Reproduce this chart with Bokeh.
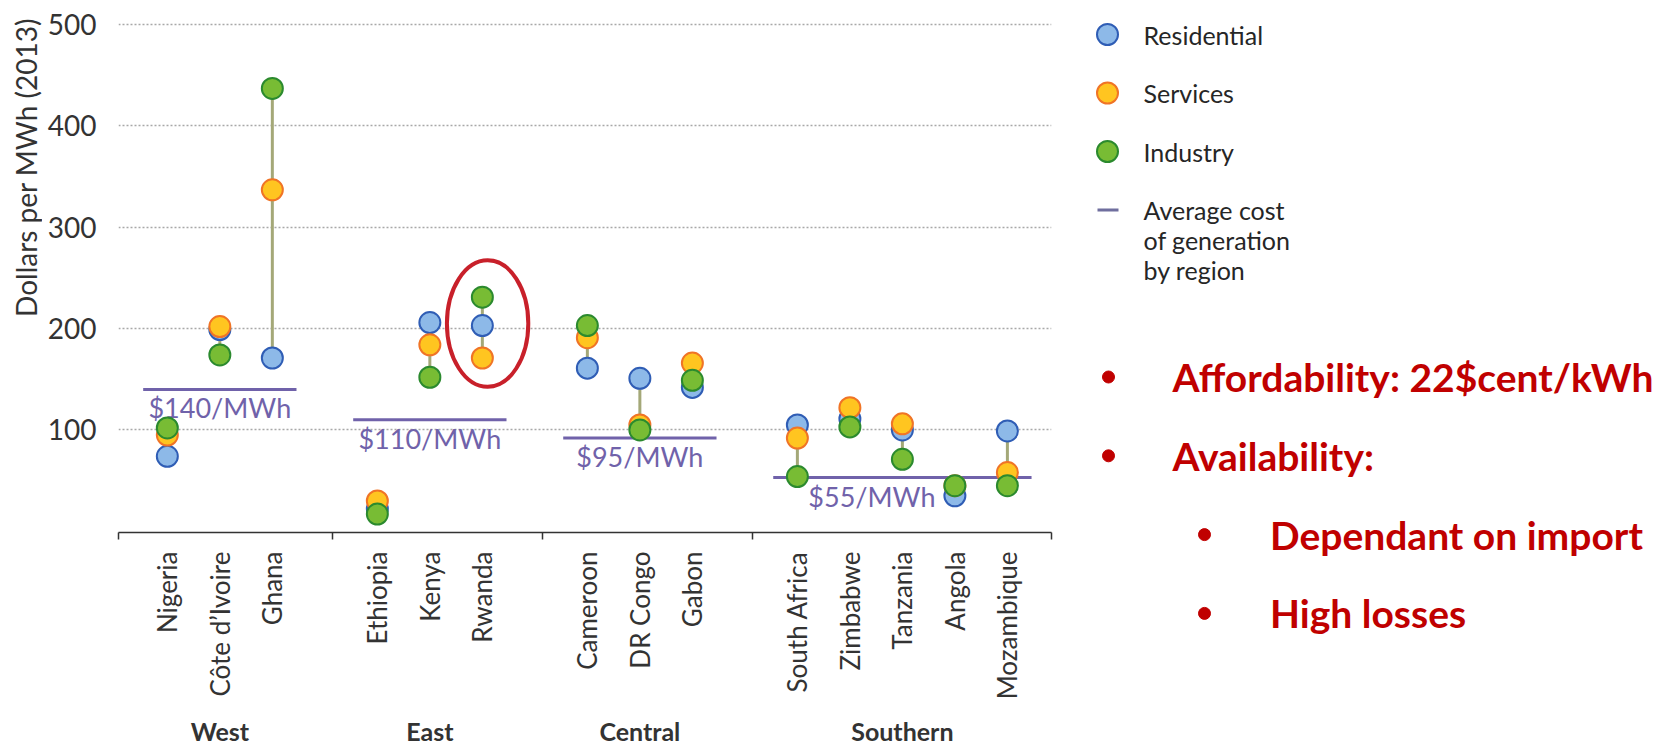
import math
from bokeh.plotting import figure
from bokeh.layouts import row
from bokeh.models import Range1d, FixedTicker, LinearAxis, ColumnDataSource
from bokeh.core.properties import value
from bokeh.embed import file_html
from bokeh.resources import INLINE

# ---------------- data ----------------
regions = ["West", "East", "Central", "Southern"]
countries_by_region = [
    ["Nigeria", "Côte d’Ivoire", "Ghana"],
    ["Ethiopia", "Kenya", "Rwanda"],
    ["Cameroon", "DR Congo", "Gabon"],
    ["South Africa", "Zimbabwe", "Tanzania", "Angola", "Mozambique"],
]
residential = [74, 199, 171, 22, 206, 203, 161, 151, 142, 105, 111, 100, 35, 99]
services = [95, 202, 337, 30, 184, 171, 191, 105, 166, 92, 122, 106, 45, 58]
industry = [102, 174, 437, 17, 152, 231, 203, 100, 149, 54, 103, 71, 45, 45]
avg_cost = [140, 110, 92, 53]
avg_labels = ["$140/MWh", "$110/MWh", "$95/MWh", "$55/MWh"]
y_ticks = [100, 200, 300, 400, 500]
y_title = "Dollars per MWh (2013)"
legend_labels = ["Residential", "Services", "Industry"]
avg_legend_lines = ["Average cost", "of generation", "by region"]
bullet_texts = ["Affordability: 22$cent/kWh", "Availability:", "Dependant on import", "High losses"]
bullet_levels = [0, 0, 1, 1]

# ---------------- styles ----------------
FONT = "Lato"
TXT = "#333333"
RES_FILL, RES_LINE = "#8DB9E8", "#2F5DB5"
SRV_FILL, SRV_LINE = "#FFC520", "#F07426"
IND_FILL, IND_LINE = "#78BC34", "#2B8A2E"
STEM = "#A4A878"
AVG = "#7062AA"
RED = "#C00000"

# slot positions: one empty slot between regions
countries, xs, g_first, g_last, g_center = [], [], [], [], []
slot = 0
for grp in countries_by_region:
    first = slot
    for c in grp:
        countries.append(c)
        xs.append(slot)
        slot += 1
    last = slot - 1
    g_first.append(first)
    g_last.append(last)
    g_center.append((first + last) / 2)
    slot += 1

x_lo, x_hi = -0.93, 16.84
boundaries = [x_lo + 0.005] + [l + 1.15 for l in g_last[:-1]] + [x_hi - 0.005]

H = 749
WT = 42  # narrow left panel holding the y-axis title

# ---------------- left panel: y-axis title ----------------
t = figure(width=WT, height=H, x_range=Range1d(0, WT), y_range=Range1d(H, 0),
           x_axis_type=None, y_axis_type=None, toolbar_location=None, output_backend="svg",
           min_border=0)
t.outline_line_color = None
t.grid.visible = False
t.text(x=[25], y=[167], text=[y_title], angle=math.pi / 2, text_align="center",
       text_baseline="middle", text_font=value(FONT), text_font_size="28px", text_color=TXT)

# ---------------- main chart ----------------
p = figure(width=1068 - WT, height=H, x_range=Range1d(x_lo, x_hi), y_range=Range1d(-1.2, 507),
           x_axis_type=None, toolbar_location=None, output_backend="svg",
           min_border_left=118 - WT, min_border_right=17, min_border_top=17, min_border_bottom=217)
p.outline_line_color = None
p.background_fill_color = "white"
p.border_fill_color = "white"

p.yaxis.ticker = FixedTicker(ticks=y_ticks)
p.yaxis.axis_line_color = None
p.yaxis.major_tick_line_color = None
p.yaxis.minor_tick_line_color = None
p.yaxis.major_label_standoff = 16
p.yaxis.major_label_text_font = FONT
p.yaxis.major_label_text_font_size = "28px"
p.yaxis.major_label_text_color = TXT

p.ygrid.ticker = FixedTicker(ticks=y_ticks)
p.ygrid.grid_line_color = "#A8A8A8"
p.ygrid.grid_line_dash = "2 2"
p.ygrid.grid_line_width = 1.4
for g in p.xgrid:
    g.visible = False

# x axis: country labels, boundary ticks
ax1 = LinearAxis(ticker=FixedTicker(ticks=xs, minor_ticks=boundaries),
                 major_label_overrides={x: c for x, c in zip(xs, countries)})
ax1.major_label_orientation = math.pi / 2
ax1.major_tick_in = 0
ax1.major_tick_out = 0
ax1.major_tick_line_color = None
ax1.minor_tick_in = 0
ax1.minor_tick_out = 7
ax1.minor_tick_line_color = TXT
ax1.minor_tick_line_width = 1.5
ax1.axis_line_color = TXT
ax1.axis_line_width = 1.5
ax1.major_label_standoff = 12
ax1.major_label_text_font = FONT
ax1.major_label_text_font_size = "26px"
ax1.major_label_text_color = TXT
p.add_layout(ax1, "below")

ax2 = LinearAxis(ticker=FixedTicker(ticks=g_center, minor_ticks=[]),
                 major_label_overrides={x: r for x, r in zip(g_center, regions)})
ax2.axis_line_color = None
ax2.major_tick_line_color = None
ax2.minor_tick_line_color = None
ax2.major_tick_out = 0
ax2.major_label_standoff = 13
ax2.major_label_text_font = FONT
ax2.major_label_text_font_size = "25px"
ax2.major_label_text_font_style = "bold"
ax2.major_label_text_color = TXT
p.add_layout(ax2, "below")

# stems and dots
lo = [min(a, b, c) for a, b, c in zip(residential, services, industry)]
hi = [max(a, b, c) for a, b, c in zip(residential, services, industry)]
src = ColumnDataSource(dict(x=xs, res=residential, srv=services, ind=industry, lo=lo, hi=hi))
p.segment(x0="x", y0="lo", x1="x", y1="hi", source=src, line_color=STEM, line_width=3)

# average generation cost lines
label_shift = [0, 0, 0, -0.58]
avg_src = ColumnDataSource(dict(
    x0=[f - 0.46 for f in g_first], x1=[l + 0.46 for l in g_last], y=avg_cost,
    lx=[c + s for c, s in zip(g_center, label_shift)], label=avg_labels))
p.segment(x0="x0", y0="y", x1="x1", y1="y", source=avg_src, line_color=AVG, line_width=3)
p.text(x="lx", y="y", text="label", source=avg_src, text_align="center", text_baseline="top",
       y_offset=2, text_font=value(FONT), text_font_size="27px", text_color=AVG)

p.scatter("x", "res", source=src, size=21, fill_color=RES_FILL, line_color=RES_LINE, line_width=2)
p.scatter("x", "srv", source=src, size=21, fill_color=SRV_FILL, line_color=SRV_LINE, line_width=2)
p.scatter("x", "ind", source=src, size=21, fill_color=IND_FILL, line_color=IND_LINE, line_width=2)

# highlight ellipse around Rwanda
rw = countries.index("Rwanda")
p.ellipse(x=[xs[rw] + 0.1], y=[(lo[rw] + hi[rw]) / 2 + 4], width=1.55, height=125,
          fill_color=None, line_color="#C8202A", line_width=4)

# ---------------- right panel: legend + notes ----------------
W2 = 594
q = figure(width=W2, height=H, x_range=Range1d(0, W2), y_range=Range1d(H, 0),
           x_axis_type=None, y_axis_type=None, toolbar_location=None, output_backend="svg",
           min_border=0)
q.outline_line_color = None
q.grid.visible = False

for fig in (t, p, q):
    try:
        fig.frame_align = False
    except Exception:
        pass

leg_y0, leg_step = 34, 58.5
leg_y = [leg_y0 + i * leg_step for i in range(len(legend_labels))]
fills = [RES_FILL, SRV_FILL, IND_FILL]
lines = [RES_LINE, SRV_LINE, IND_LINE]
q.scatter(x=[39] * 3, y=leg_y, size=21, fill_color=fills, line_color=lines, line_width=2)
q.text(x=[75] * 3, y=leg_y, text=legend_labels, text_baseline="middle",
       text_font=value(FONT), text_font_size="25px", text_color="#262626")
avg_y = leg_y0 + 3 * leg_step
q.segment(x0=[29], y0=[avg_y], x1=[50], y1=[avg_y], line_color="#6F6E9E", line_width=3)
q.text(x=[75] * 3, y=[avg_y + i * 30 for i in range(3)], text=avg_legend_lines,
       text_baseline="middle", text_font=value(FONT), text_font_size="25px", text_color="#262626")

b_y0, b_step = 376.5, 78.8
b_y = [b_y0 + i * b_step for i in range(len(bullet_texts))]
b_x = [40 + 96 * lv for lv in bullet_levels]
t_x = [104 + 97.5 * lv for lv in bullet_levels]
q.scatter(x=b_x, y=b_y, size=12, fill_color=RED, line_color=RED)
q.text(x=t_x, y=b_y, text=bullet_texts, text_baseline="middle", text_font=value(FONT),
       text_font_size="39px", text_font_style="bold", text_color=RED)

layout = row(t, p, q)
open("out.html", "w").write(file_html(layout, INLINE))
